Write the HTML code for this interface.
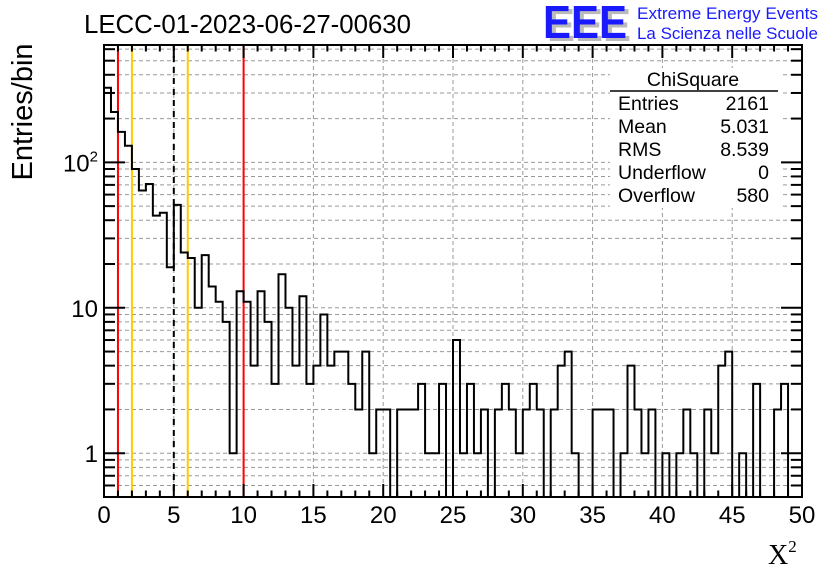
<!DOCTYPE html>
<html><head><meta charset="utf-8"><style>
html,body{margin:0;padding:0;background:#fff;}
svg{display:block;font-family:"Liberation Sans",sans-serif;}
</style></head><body>
<svg id="chart" width="836" height="572" viewBox="0 0 836 572">
<g id="grid"></g>
<g id="marks"></g>
<g id="hist"></g>
<g id="axes"></g>
<text x="84" y="33" font-size="26" textLength="327" lengthAdjust="spacingAndGlyphs">LECC-01-2023-06-27-00630</text>
<g>
<text x="547" y="41" font-size="46" font-weight="bold" fill="#bbb" textLength="84" lengthAdjust="spacingAndGlyphs">EEE</text>
<text x="543" y="38" font-size="46" font-weight="bold" fill="#1a1aff" textLength="84" lengthAdjust="spacingAndGlyphs">EEE</text>
<text x="637" y="19" font-size="17" fill="#1a1aff" textLength="181" lengthAdjust="spacingAndGlyphs">Extreme Energy Events</text>
<text x="637" y="39" font-size="17" fill="#1a1aff" textLength="181" lengthAdjust="spacingAndGlyphs">La Scienza nelle Scuole</text>
</g>
<text transform="translate(32,112) rotate(-90)" text-anchor="middle" font-size="29">Entries/bin</text>
<text x="768" y="564" font-size="28" font-family="Liberation Serif,serif">X<tspan font-size="17" dy="-12">2</tspan></text>
<g font-size="19.5">
<rect x="610" y="68" width="170" height="140" fill="#fff"/>
<text x="693" y="86" text-anchor="middle">ChiSquare</text>
<line x1="610" y1="91" x2="778" y2="91" stroke="#000" stroke-width="1.5"/>
<text x="618" y="110">Entries</text><text x="769" y="110" text-anchor="end">2161</text>
<text x="618" y="133">Mean</text><text x="769" y="133" text-anchor="end">5.031</text>
<text x="618" y="156">RMS</text><text x="769" y="156" text-anchor="end">8.539</text>
<text x="618" y="179">Underflow</text><text x="769" y="179" text-anchor="end">0</text>
<text x="618" y="202">Overflow</text><text x="769" y="202" text-anchor="end">580</text>
</g>
</svg>
<script>
const binWidth = 0.5;
const counts = [326,222,162,130,90,64,71,43,45,19,51,24,22,10,23,14,11,8,1,13,11,4,13,8,3,17,10,4,12,3,4,9,4,5,5,3,2,5,1,2,2,0,2,2,2,3,1,1,3,0,6,1,3,1,2,0,2,3,2,1,2,3,2,0,2,4,5,1,0,0,2,2,2,0,1,4,2,1,2,0,1,0,1,2,1,0,2,1,4,5,0,1,0,3,0,0,2,3,0,0];
const xTicks = [0,5,10,15,20,25,30,35,40,45,50];
const yTickValues = [1,10,100];
const yTickLabels = ["1","10","10²"];
const redLines = [1,10];
const yellowLines = [2,6];
const dashedLines = [5];

const NS="http://www.w3.org/2000/svg";
const X0=104,X1=802,Y0=497,Y1=45;
const xMin=0,xMax=50,yMin=0.5,yMax=641;
const sx=v=>X0+(v-xMin)/(xMax-xMin)*(X1-X0);
const sy=v=>Y0-(Math.log10(v)-Math.log10(yMin))/(Math.log10(yMax)-Math.log10(yMin))*(Y0-Y1);
function mk(tag,attrs,parent){const e=document.createElementNS(NS,tag);for(const k in attrs)e.setAttribute(k,attrs[k]);parent.appendChild(e);return e;}
const grid=document.getElementById('grid'),axes=document.getElementById('axes'),marks=document.getElementById('marks'),hist=document.getElementById('hist');
for(const t of xTicks){if(t===xMin||t===xMax)continue;
 const g=mk('line',{x1:sx(t),x2:sx(t),y1:Y1,y2:Y0,stroke:'#999','stroke-width':1,'stroke-dasharray':'4,3'},grid);
 
 }
const minors=[];
for(let d=-1;d<=2;d++)for(let m=1;m<=9;m++){const v=m*Math.pow(10,d);if(v>yMin&&v<yMax)minors.push(v);}
for(const v of minors){
 const g=mk('line',{x1:X0,x2:X1,y1:sy(v),y2:sy(v),stroke:'#999','stroke-width':1,'stroke-dasharray':'4,3'},grid);
 
 }
for(const v of redLines){const l=mk('line',{x1:sx(v),x2:sx(v),y1:Y1,y2:Y0,stroke:'#f00','stroke-width':2},marks);
 
 }
for(const v of yellowLines){const l=mk('line',{x1:sx(v),x2:sx(v),y1:Y1,y2:Y0,stroke:'#fc0','stroke-width':2},marks);
 
 }
for(const v of dashedLines){const l=mk('line',{x1:sx(v),x2:sx(v),y1:Y1,y2:Y0,stroke:'#000','stroke-width':2,'stroke-dasharray':'6,5'},marks);
 
 }
let d='';
counts.forEach((c,i)=>{const xa=sx(i*binWidth),xb=sx((i+1)*binWidth);const y=c>0?sy(c):Y0;
 if(i===0)d+=`M${xa},${y}`;else d+=`L${xa},${y}`;d+=`L${xb},${y}`;});
const p=mk('path',{d:d,fill:'none',stroke:'#000','stroke-width':2},hist);


const f=mk('rect',{x:X0,y:Y1,width:X1-X0,height:Y0-Y1,fill:'none',stroke:'#000','stroke-width':2},axes);


for(let v=xMin;v<=xMax;v+=1){const maj=v%5===0;const L=maj?13:6.5;
 mk('line',{x1:sx(v),x2:sx(v),y1:Y0,y2:Y0-L,stroke:'#000','stroke-width':2},axes);
 mk('line',{x1:sx(v),x2:sx(v),y1:Y1,y2:Y1+L,stroke:'#000','stroke-width':2},axes);}
for(const t of xTicks){const tx=mk('text',{x:sx(t),y:523,'text-anchor':'middle','font-size':24},axes);tx.textContent=t;
 
 }
for(const v of minors){const maj=yTickValues.includes(v);const L=maj?21:11;
 mk('line',{x1:X0,x2:X0+L,y1:sy(v),y2:sy(v),stroke:'#000','stroke-width':2},axes);
 mk('line',{x1:X1,x2:X1-L,y1:sy(v),y2:sy(v),stroke:'#000','stroke-width':2},axes);}
yTickValues.forEach((v,i)=>{const tx=mk('text',{x:98,y:sy(v)+9,'text-anchor':'end','font-size':24},axes);
 if(yTickLabels[i].endsWith('²')){tx.textContent='10';const ts=mk('tspan',{'font-size':15,dy:-10},tx);ts.textContent='2';}
 else tx.textContent=yTickLabels[i];
 
 });
</script>
</body></html>
